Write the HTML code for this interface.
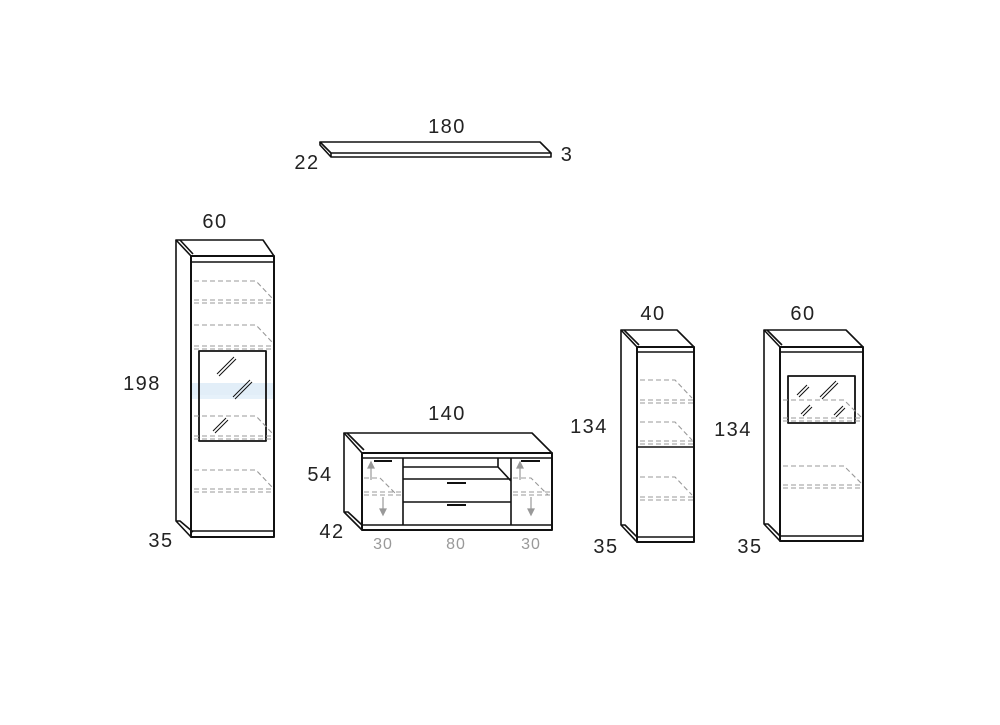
<!DOCTYPE html>
<html><head><meta charset="utf-8"><style>
html,body{margin:0;padding:0;background:#fff;width:1000px;height:725px;overflow:hidden}
svg text{font-family:"Liberation Sans",sans-serif;font-size:20px;fill:#222;letter-spacing:1.5px}
</style></head><body>
<svg width="1000" height="725" viewBox="0 0 1000 725" xmlns="http://www.w3.org/2000/svg">
<g fill="none" stroke="#111" stroke-width="1.6" stroke-linejoin="round">
<!-- shelf -->
<path d="M320,142 L540,142 L551,153 L331,153 Z" fill="#fff"/>
<path d="M331,153 L331,157 L551,157 L551,153 M320,142 L320,145 L331,157"/>

<!-- tall cabinet -->
<rect x="192" y="395" width="82" height="4" fill="#e6f1fa" stroke="none"/>
<rect x="192" y="383" width="82" height="12" fill="#cfe3f3" stroke="none" opacity="0.6"/>
<path d="M176,240 L263,240 L274,256 L191,256 Z"/>
<path d="M176,240 L176,521 L191,537 M180,240 L193,254 M176,521 L180,521 L193,532"/>
<rect x="191" y="256" width="83" height="281" stroke-width="2"/>
<path d="M191,262 L274,262 M191,531 L274,531" stroke-width="1.4"/>
<rect x="199" y="351" width="67" height="90" stroke-width="1.8"/>
<path d="M217,374 L234,357 M219,376 L236,359 M233,397 L250,380 M235,399 L252,382 M213,431 L226,418 M215,433 L228,420" stroke-width="1"/>

<!-- TV unit -->
<path d="M344,433 L532,433 L552,453 L362,453 Z"/>
<path d="M344,433 L344,512 L362,530 M347,433 L364,450 M344,512 L348,512 L362,525"/>
<rect x="362" y="453" width="190" height="77" stroke-width="2"/>
<path d="M362,458 L552,458 M362,525 L552,525 M403,458 L403,525 M511,458 L511,525 M403,467 L498,467 L511,481 M498,458 L498,467 M403,479 L511,479 M403,502 L511,502"/>
<path d="M374,461 L392,461 M521,461 L540,461 M447,483 L466,483 M447,505 L466,505" stroke-width="2"/>

<!-- cabinet 40 -->
<path d="M621,330 L677,330 L694,347 L637,347 Z"/>
<path d="M621,330 L621,525 L637,542 M624,330 L639,345 M621,525 L625,525 L637,537"/>
<rect x="637" y="347" width="57" height="195" stroke-width="2"/>
<path d="M637,352 L694,352 M637,537 L694,537 M637,447 L694,447"/>

<!-- cabinet 60 -->
<path d="M764,330 L846,330 L863,347 L780,347 Z"/>
<path d="M764,330 L764,524 L780,541 M767,330 L782,345 M764,524 L768,524 L780,536"/>
<rect x="780" y="347" width="83" height="194" stroke-width="2"/>
<path d="M780,352 L863,352 M780,536 L863,536"/>
<rect x="788" y="376" width="67" height="47" stroke-width="1.8"/>
<path d="M797,395 L807,385 M799,397 L809,387 M820,397 L836,381 M822,399 L838,383 M801,414 L810,405 M803,416 L812,407 M834,415 L843,406 M836,417 L845,408" stroke-width="1"/>
</g>

<g fill="none" stroke="#999" stroke-width="1.1" stroke-dasharray="5,3">
<path d="M194,281 L256,281 L272,298 M194,300 L273,300 M194,303 L273,303"/>
<path d="M194,325 L256,325 L272,342 M194,346 L273,346 M194,349 L273,349"/>
<path d="M194,416 L256,416 L272,433 M194,436 L273,436 M194,439 L273,439"/>
<path d="M194,470 L256,470 L272,487 M194,489 L273,489 M194,492 L273,492"/>
<path d="M364,478 L380,478 L397,495 M364,492 L403,492 M364,495 L403,495"/>
<path d="M513,478 L531,478 L548,495 M513,492 L552,492 M513,495 L552,495"/>
<path d="M640,380 L675,380 L692,398 M640,400 L693,400 M640,403 L693,403"/>
<path d="M640,422 L675,422 L692,440 M640,441 L693,441 M640,444 L693,444"/>
<path d="M640,477 L675,477 L692,495 M640,497 L693,497 M640,500 L693,500"/>
<path d="M783,400 L844,400 L861,417 M783,418 L862,418 M783,421 L862,421"/>
<path d="M783,466 L844,466 L861,483 M783,485 L862,485 M783,488 L862,488"/>
</g>
<g stroke="#999" stroke-width="1.2" fill="#999">
<path d="M371,480 L371,466 M383,497 L383,511 M520,480 L520,466 M531,497 L531,511" fill="none"/>
<path d="M368,468 L371,462 L374,468 Z M380,509 L383,515 L386,509 Z M517,468 L520,462 L523,468 Z M528,509 L531,515 L534,509 Z"/>
</g>

<text x="447" y="133" text-anchor="middle">180</text>
<text x="307" y="169" text-anchor="middle">22</text>
<text x="567" y="161" text-anchor="middle">3</text>
<text x="215" y="228" text-anchor="middle">60</text>
<text x="142" y="390" text-anchor="middle">198</text>
<text x="161" y="547" text-anchor="middle">35</text>
<text x="447" y="420" text-anchor="middle">140</text>
<text x="320" y="481" text-anchor="middle">54</text>
<text x="332" y="538" text-anchor="middle">42</text>
<text x="383" y="549" text-anchor="middle" style="fill:#999;font-size:16px;letter-spacing:1px">30</text>
<text x="456" y="549" text-anchor="middle" style="fill:#999;font-size:16px;letter-spacing:1px">80</text>
<text x="531" y="549" text-anchor="middle" style="fill:#999;font-size:16px;letter-spacing:1px">30</text>
<text x="653" y="320" text-anchor="middle">40</text>
<text x="589" y="433" text-anchor="middle">134</text>
<text x="606" y="553" text-anchor="middle">35</text>
<text x="803" y="320" text-anchor="middle">60</text>
<text x="733" y="436" text-anchor="middle">134</text>
<text x="750" y="553" text-anchor="middle">35</text>
</svg>
</body></html>
